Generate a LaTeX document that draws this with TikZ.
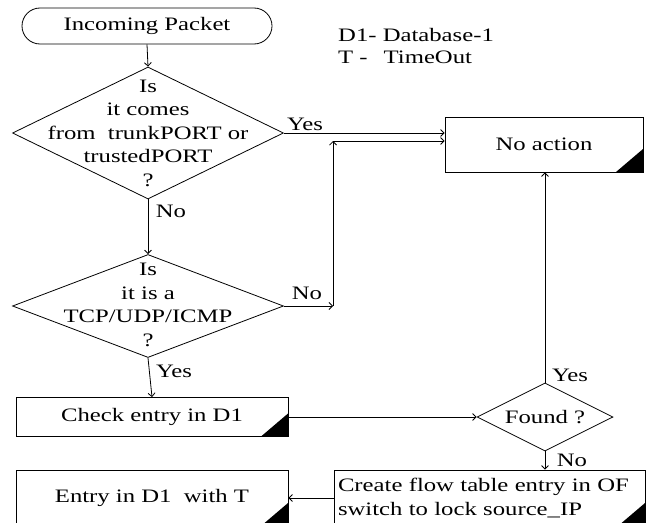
\documentclass[tikz,border=0pt]{standalone}
\usepackage{fontspec}
\setmainfont{Liberation Serif}[FakeStretch=1.3]
\usetikzlibrary{shapes.geometric,arrows.meta}

\begin{document}
\begin{tikzpicture}[x=1pt,y=-1pt,
  every node/.style={font=\fontsize{19}{23.5}\selectfont},
  flowline/.style={line width=0.8pt,-{Straight Barb[length=3.5pt,width=7pt]}},
  procbox/.style={draw,line width=0.8pt,rectangle,inner sep=0pt,
    path picture={\fill[black] (path picture bounding box.south east)
      -- ++(-27pt,0pt) -- ++(27pt,23pt) -- cycle;}},
  decision/.style={draw,line width=0.8pt,diamond,inner sep=0pt},
  terminal/.style={draw,line width=0.8pt,rectangle,rounded corners=18pt,inner sep=0pt},
  tag/.style={inner sep=0pt}
]
\useasboundingbox (0,0) rectangle (647,522);
\clip (0,0) rectangle (647,522);

% legend
\node[tag,anchor=west] (leg1) at (338,35) {D1- Database-1};
\node[tag,anchor=west] (leg2) at (338,57) {T -\hspace{16pt}TimeOut};

% shapes
\node[terminal,minimum width=250pt,minimum height=36pt] (start) at (147,26) {Incoming Packet};

\node[decision,minimum width=271pt,minimum height=132pt] (d1) at (148,133) {};
\node[align=center] (d1text) at (148,133) {Is\\it comes\\from\ \ trunkPORT or\\trustedPORT\\?};

\node[decision,minimum width=271pt,minimum height=103pt] (d2) at (148,306) {};
\node[align=center] (d2text) at (148,305) {Is\\it is a\\TCP/UDP/ICMP\\?};

\node[procbox,minimum width=198pt,minimum height=55pt] (noact) at (544,144.5) {No action};
\node[procbox,minimum width=272pt,minimum height=39pt] (check) at (152,417) {Check entry in D1};
\node[decision,minimum width=136pt,minimum height=68pt] (found) at (545,417) {};
\node (foundtext) at (found) {Found ?};
\node[procbox,minimum width=272pt,minimum height=56pt] (entry) at (152,498) {Entry in D1\ \ with T};
\node[procbox,minimum width=311pt,minimum height=56pt,text width=303pt,align=left] (create) at (489.5,498)
  {Create flow table entry in OF\\switch to lock source\_IP};

% junction points of the "No" route
\coordinate (j1) at (333,306);
\coordinate (j2) at (333,141);

% connectors
\draw[flowline] (start.south) -- (d1.north);
\draw[flowline] (d1.east) -- (d1.east -| noact.west);
\node[tag] (yes1) at (305,124) {Yes};
\draw[flowline] (d1.south) -- (d2.north);
\node[tag] (no1) at (171,211) {No};
\draw[flowline] (d2.east) -- (j1);
\node[tag] (no2) at (307,293) {No};
\draw[flowline] (j1) -- (j2);
\draw[flowline] (j2) -- (j2 -| noact.west);
\draw[flowline] (d2.south) -- (check.north);
\node[tag] (yes2) at (174,371) {Yes};
\draw[flowline] (check.east) -- (found.west);
\draw[flowline] (found.north) -- (found.north |- noact.south);
\node[tag] (yes3) at (570,375) {Yes};
\draw[flowline] (found.south) -- (found.south |- create.north);
\node[tag] (no3) at (572,460) {No};
\draw[flowline] (create.west) -- (entry.east);
\end{tikzpicture}
\end{document}
